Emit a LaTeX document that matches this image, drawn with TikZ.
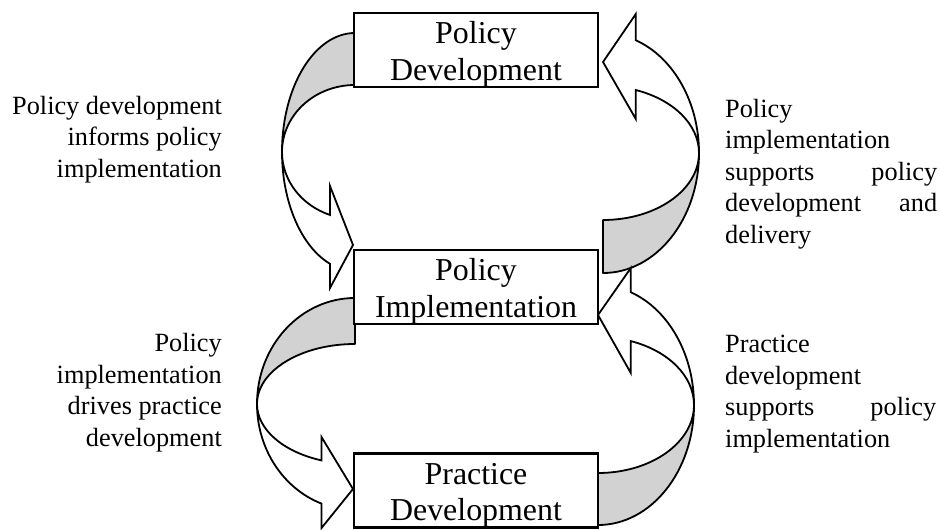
\documentclass[tikz,border=0pt]{standalone}
\usepackage{fontspec}
\setmainfont{Liberation Serif}
\usetikzlibrary{calc}

\begin{document}
\begin{tikzpicture}[x=1pt,y=-1pt]
\tikzstyle{stage}=[draw,line width=2.4pt,fill=white,minimum width=244pt,minimum height=74pt,inner sep=0pt,align=center,text height=64pt,text depth=4pt,font=\fontsize{31.9}{36.5}\selectfont]
\tikzstyle{backband}=[draw,fill=gray!35,line width=1.8pt,line join=round]
\tikzstyle{frontband}=[draw,fill=white,line width=1.8pt,line join=miter]
\tikzstyle{note}=[inner sep=0pt,font=\fontsize{26.3}{31.5}\selectfont]
\useasboundingbox (0,0) rectangle (940,530);
% centres of the curved arrows
\coordinate (cdown1) at (355,152);
\coordinate (cdown2) at (355,404);
\coordinate (cup1) at (603,153);
\coordinate (cup2) at (598,405);
% development -> implementation
\draw [backband] ($(cdown1)+(270:73 and 119)$) arc[start angle=270,end angle=180,x radius=73,y radius=119] arc[start angle=180,end angle=270,x radius=73,y radius=67] -- cycle;
\draw [frontband] ($(cdown1)+(180:73 and 119)$) arc[start angle=180,end angle=110,x radius=73,y radius=119] -- (330,288) -- (353,245) -- (330,186) -- ($(cdown1)+(110:73 and 67)$) arc[start angle=110,end angle=180,x radius=73,y radius=67] -- cycle;
% implementation -> practice
\draw [backband] ($(cdown2)+(270:98 and 106)$) arc[start angle=270,end angle=180,x radius=98,y radius=106] arc[start angle=180,end angle=270,x radius=98,y radius=60] -- cycle;
\draw [frontband] ($(cdown2)+(180:98 and 106)$) arc[start angle=180,end angle=110,x radius=98,y radius=106] -- (321.5,528) -- (353,489) -- (321.5,437) -- ($(cdown2)+(110:98 and 60)$) arc[start angle=110,end angle=180,x radius=98,y radius=60] -- cycle;
% implementation -> development
\draw [backband] ($(cup1)+(90:96 and 120)$) arc[start angle=90,end angle=0,x radius=96,y radius=120] arc[start angle=0,end angle=90,x radius=96,y radius=67] -- cycle;
\draw [frontband] ($(cup1)+(0:96 and 120)$) arc[start angle=0,end angle=-70,x radius=96,y radius=120] -- (635.8,14) -- (603,62) -- (635.8,119) -- ($(cup1)+(-70:96 and 67)$) arc[start angle=-70,end angle=0,x radius=96,y radius=67] -- cycle;
% practice -> implementation
\draw [backband] ($(cup2)+(90:96 and 120)$) arc[start angle=90,end angle=0,x radius=96,y radius=120] arc[start angle=0,end angle=90,x radius=96,y radius=68] -- cycle;
\draw [frontband] ($(cup2)+(0:96 and 120)$) arc[start angle=0,end angle=-70,x radius=96,y radius=120] -- (630.8,268) -- (598,315) -- (630.8,373) -- ($(cup2)+(-70:96 and 68)$) arc[start angle=-70,end angle=0,x radius=96,y radius=68] -- cycle;
% the three stages
\node [stage] (develop) at (476,50) {Policy\\Development};
\node [stage] (implement) at (476,287) {Policy\\Implementation};
\node [stage] (practice) at (476,490.5) {Practice\\Development};
% side notes (base is the last line)
\node [note,anchor=base east,align=right] (informs) at (222,177) {Policy development\\informs policy\\implementation};
\node [note,anchor=base east,align=right] (drives) at (222,446) {Policy\\implementation\\drives practice\\development};
\node [note,anchor=base west,align=left] (supports) at (725,243) {Policy\\implementation\\\makebox[212pt][s]{supports policy}\\\makebox[212pt][s]{development and}\\delivery};
\node [note,anchor=base west,align=left] (underpins) at (725,447) {Practice\\development\\\makebox[211pt][s]{supports policy}\\implementation};
\end{tikzpicture}
\end{document}
